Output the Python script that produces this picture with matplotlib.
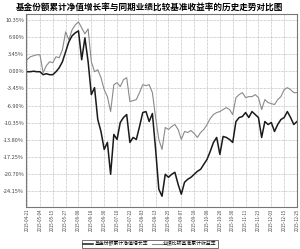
import numpy as np
import matplotlib
matplotlib.use('Agg')
import matplotlib.pyplot as plt

plt.rcParams['font.family'] = ['Noto Sans CJK SC', 'DejaVu Sans']

# tick labels (every 4th point)
dates = ['2015-04-21', '2015-05-04', '2015-05-15', '2015-05-27', '2015-06-08',
         '2015-06-18', '2015-06-30', '2015-07-10', '2015-07-22', '2015-08-03',
         '2015-08-13', '2015-08-25', '2015-09-07', '2015-09-18', '2015-10-08',
         '2015-10-20', '2015-10-30', '2015-11-11', '2015-11-23', '2015-12-03',
         '2015-12-15', '2015-12-25']

# fund cumulative NAV growth (%)
fund = [-0.1, -0.1, 0.0, -0.1, -0.1, -0.7, -0.5, -0.7, -0.7, -0.1,
        0.7, 1.9, 3.9, 5.9, 7.1, 7.7, 8.1, 2.3, 6.7, 1.9,
        -4.7, -3.3, -9.7, -12.1, -15.7, -14.3, -20.7, -12.7, -13.7, -10.3,
        -9.3, -8.7, -14.3, -13.3, -13.7, -11.1, -8.3, -8.1, -10.1, -8.5,
        -15.7, -23.7, -25.1, -20.7, -21.3, -20.7, -20.3, -22.7, -24.7, -22.3,
        -21.7, -21.3, -20.7, -20.1, -19.7, -18.7, -17.7, -16.1, -14.3, -13.3,
        -16.7, -13.1, -13.3, -13.7, -14.3, -10.1, -9.3, -9.1, -8.3, -9.3,
        -8.1, -8.7, -9.3, -13.3, -10.1, -10.7, -10.3, -12.1, -10.7, -9.7,
        -9.3, -8.1, -9.3, -10.7, -10.1]

# benchmark cumulative return (%)
bench = [2.3, 2.9, 3.1, 3.3, 3.3, -0.3, 1.1, 1.9, 1.7, 2.9,
         2.7, 4.3, 7.9, 6.3, 8.3, 9.3, 9.9, 8.7, 7.5, 8.5,
         1.9, -0.1, 0.3, -1.3, -3.7, -5.1, -8.1, -2.7, -2.3, -3.1,
         -1.7, -1.3, -6.1, -5.9, -5.7, -4.3, -2.7, -2.9, -2.7, -4.3,
         -9.3, -13.7, -15.7, -11.3, -11.7, -11.1, -10.7, -11.7, -13.7, -12.1,
         -12.3, -11.9, -12.5, -13.3, -12.3, -11.7, -10.7, -9.5, -8.7, -8.3,
         -8.1, -7.7, -7.3, -7.7, -8.7, -5.3, -4.7, -4.3, -5.3, -5.1,
         -5.1, -4.7, -5.3, -7.7, -5.7, -6.3, -6.5, -6.7, -5.7, -5.1,
         -3.7, -3.3, -3.7, -4.3, -4.3]

yticks = [10.35, 6.90, 3.45, 0.00, -3.45, -6.90, -10.35, -13.80, -17.25, -20.70, -24.15]

fig = plt.figure(figsize=(3.0, 2.49), dpi=100)
ax = fig.add_axes([0.087, 0.168, 0.903, 0.776])

x = np.arange(len(fund))
ax.plot(x, bench, color='#8a8a8a', lw=0.8, label='业绩比较基准累计收益率')
ax.plot(x, fund, color='#1a1a1a', lw=1.1, label='基金份额累计净值增长率')

ax.set_xlim(-0.3, len(fund) - 1)
ax.set_ylim(-27.3, 11.5)
ax.set_yticks(yticks)
ax.set_yticklabels(['%.2f%%' % v for v in yticks], fontsize=4, color='#444444')
ax.set_xticks(x[::4])
ax.set_xticklabels(dates, rotation=90, fontsize=3.1, color='#444444')
ax.tick_params(length=0, pad=1.5)
ax.tick_params(axis='x', pad=1)
ax.grid(True, color='#aaaaaa', ls=(0, (1, 1)), lw=0.5)
for s in ax.spines.values():
    s.set_color('#777777')
    s.set_linewidth(0.8)

fig.text(0.5, 0.972, '基金份额累计净值增长率与同期业绩比较基准收益率的历史走势对比图',
         ha='center', va='center', fontsize=6.2, fontweight='bold')

h, l = ax.get_legend_handles_labels()
leg = fig.legend(h[::-1], l[::-1], loc='center', bbox_to_anchor=(0.5, 0.02), ncol=2,
                 fontsize=3.5, frameon=True, fancybox=False, edgecolor='#333333',
                 handlelength=2.0, columnspacing=0.8, borderpad=0.25, handletextpad=0.3)
leg.get_frame().set_linewidth(0.6)

fig.savefig('out.png', dpi=100)
